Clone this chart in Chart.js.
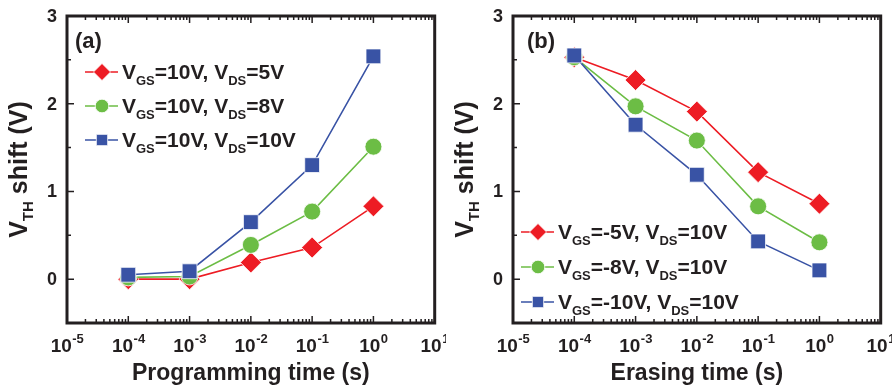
<!DOCTYPE html>
<html>
<head>
<meta charset="utf-8">
<script src="https://cdn.jsdelivr.net/npm/chart.js@4"></script>
<style>
  html, body { margin: 0; padding: 0; background: #fff; }
  #wrap { position: relative; width: 892px; height: 387px; }
  .panel { position: absolute; top: 0; width: 446px; height: 387px; }
</style>
</head>
<body>
<div id="wrap">
  <div class="panel" style="left:0"><canvas id="ca" width="446" height="387"></canvas></div>
  <div class="panel" style="left:446px"><canvas id="cb" width="446" height="387"></canvas></div>
</div>
<script>
// ---------- data ----------
const times = [1e-4, 1e-3, 1e-2, 1e-1, 1];

const progRed   = [0.00, 0.00, 0.19, 0.36, 0.83];
const progGreen = [0.02, 0.03, 0.39, 0.77, 1.51];
const progBlue  = [0.05, 0.09, 0.65, 1.30, 2.54];

const eraseRed   = [2.53, 2.27, 1.91, 1.22, 0.86];
const eraseGreen = [2.53, 1.97, 1.58, 0.83, 0.42];
const eraseBlue  = [2.55, 1.76, 1.19, 0.43, 0.10];

const progLabels  = ['V{GS}=10V, V{DS}=5V', 'V{GS}=10V, V{DS}=8V', 'V{GS}=10V, V{DS}=10V'];
const eraseLabels = ['V{GS}=-5V, V{DS}=10V', 'V{GS}=-8V, V{DS}=10V', 'V{GS}=-10V, V{DS}=10V'];

const xTickExps = [-5, -4, -3, -2, -1, 0, 1];
const yTickVals = [0, 1, 2, 3];
const yMinorVals = [-0.5, 0.5, 1.5, 2.5];

// ---------- styles ----------
const RED = '#ed1c24', GREEN = '#6cbd45', BLUE = '#3953a5', INK = '#231f20';
const FONT = '"Liberation Sans", Arial, Helvetica, sans-serif';
const styles = [
  { color: RED,   pointStyle: 'rectRot', radius: 10.5, legendRadius: 8.5, order: 2 },
  { color: GREEN, pointStyle: 'circle',  radius: 8.5,  legendRadius: 6.8, order: 1 },
  { color: BLUE,  pointStyle: 'rect',    radius: 10.5, legendRadius: 8,   order: 0 }
];

function parseRich(s) {
  const parts = [];
  const re = /\{([^}]*)\}/g;
  let last = 0, m;
  while ((m = re.exec(s))) {
    if (m.index > last) parts.push({ t: s.slice(last, m.index), sub: false });
    parts.push({ t: m[1], sub: true });
    last = re.lastIndex;
  }
  if (last < s.length) parts.push({ t: s.slice(last), sub: false });
  return parts;
}

function drawRich(ctx, parts, x, y, align, size, subSize, subDy) {
  const fBase = 'bold ' + size + 'px ' + FONT;
  const fSub = 'bold ' + subSize + 'px ' + FONT;
  let w = 0;
  parts.forEach(p => { ctx.font = p.sub ? fSub : fBase; p.w = ctx.measureText(p.t).width; w += p.w; });
  let cx = align === 'center' ? x - w / 2 : (align === 'right' ? x - w : x);
  ctx.textAlign = 'left';
  ctx.textBaseline = 'alphabetic';
  parts.forEach(p => {
    ctx.font = p.sub ? fSub : fBase;
    ctx.fillText(p.t, cx, y + (p.sub ? subDy : 0));
    cx += p.w;
  });
}

function makeDatasets(series, labels) {
  return series.map((vals, i) => ({
    label: labels[i],
    data: times.map((t, k) => ({ x: t, y: vals[k] })),
    order: styles[i].order,
    borderColor: styles[i].color,
    backgroundColor: styles[i].color,
    borderWidth: 1.6,
    pointStyle: styles[i].pointStyle,
    pointRadius: styles[i].radius,
    pointHoverRadius: styles[i].radius,
    pointBorderColor: '#ffffff',
    pointBorderWidth: 0.8,
    pointBackgroundColor: styles[i].color,
    tension: 0
  }));
}

function framePlugin(opts) {
  return {
    id: 'frame',
    afterDraw(chart) {
      const ctx = chart.ctx;
      const a = chart.chartArea;
      const xs = chart.scales.x, ys = chart.scales.y;
      ctx.save();
      ctx.strokeStyle = INK;
      ctx.fillStyle = INK;
      // ticks
      ctx.lineWidth = 1.5;
      ctx.beginPath();
      for (let e = -5; e <= 1; e++) {
        const px = xs.getPixelForValue(Math.pow(10, e));
        ctx.moveTo(px, a.bottom); ctx.lineTo(px, a.bottom - 7);
        ctx.moveTo(px, a.top); ctx.lineTo(px, a.top + 7);
        if (e < 1) {
          for (let m = 2; m <= 9; m++) {
            const pm = xs.getPixelForValue(m * Math.pow(10, e));
            ctx.moveTo(pm, a.bottom); ctx.lineTo(pm, a.bottom - 4);
            ctx.moveTo(pm, a.top); ctx.lineTo(pm, a.top + 4);
          }
        }
      }
      yTickVals.forEach(v => {
        const py = ys.getPixelForValue(v);
        ctx.moveTo(a.left, py); ctx.lineTo(a.left + 7, py);
      });
      yMinorVals.forEach(v => {
        const py = ys.getPixelForValue(v);
        ctx.moveTo(a.left, py); ctx.lineTo(a.left + 4, py);
      });
      ctx.stroke();
      // frame
      ctx.lineWidth = 3;
      ctx.strokeRect(a.left, a.top, a.right - a.left, a.bottom - a.top);

      // x tick labels
      xTickExps.forEach(e => {
        const px = xs.getPixelForValue(Math.pow(10, e));
        const base = '10', sup = String(e);
        ctx.font = 'bold 19px ' + FONT;
        const wb = ctx.measureText(base).width;
        ctx.font = 'bold 13px ' + FONT;
        const ws = ctx.measureText(sup).width;
        const x0 = px - (wb + ws) / 2;
        ctx.textAlign = 'left'; ctx.textBaseline = 'alphabetic';
        ctx.font = 'bold 19px ' + FONT;
        ctx.fillText(base, x0, a.bottom + 29);
        ctx.font = 'bold 13px ' + FONT;
        ctx.fillText(sup, x0 + wb + 0.5, a.bottom + 20);
      });
      // y tick labels
      ctx.font = 'bold 18px ' + FONT;
      ctx.textAlign = 'right'; ctx.textBaseline = 'middle';
      yTickVals.forEach(v => {
        ctx.fillText(String(v), a.left - 10, ys.getPixelForValue(v) + 1);
      });
      // axis titles
      ctx.font = 'bold 23px ' + FONT;
      ctx.textAlign = 'center'; ctx.textBaseline = 'alphabetic';
      ctx.fillText(opts.xTitle, (a.left + a.right) / 2, a.bottom + 57);
      ctx.save();
      ctx.translate(opts.yTitleX, (a.top + a.bottom) / 2);
      ctx.rotate(-Math.PI / 2);
      drawRich(ctx, parseRich('V{TH} shift (V)'), 0, 0, 'center', 25, 15, 6);
      ctx.restore();
      // panel label
      ctx.font = 'bold 22px ' + FONT;
      ctx.textAlign = 'left';
      ctx.fillText(opts.panel, opts.panelX, 48);
      // legend
      chart.data.datasets.forEach((ds, i) => {
        const cy = opts.legendY + i * opts.legendGap;
        ctx.strokeStyle = ds.borderColor;
        ctx.lineWidth = 1.6;
        ctx.beginPath();
        ctx.moveTo(opts.legendX - 17, cy); ctx.lineTo(opts.legendX + 16, cy);
        ctx.stroke();
        ctx.fillStyle = ds.pointBackgroundColor;
        ctx.strokeStyle = '#ffffff';
        ctx.lineWidth = 0.8;
        Chart.helpers.drawPoint(ctx, { pointStyle: ds.pointStyle, radius: styles[i].legendRadius, borderWidth: 0.8, rotation: 0 }, opts.legendX, cy);
        ctx.fillStyle = INK;
        drawRich(ctx, parseRich(ds.label), opts.legendX + 20, cy + 7, 'left', 21, 13, 6);
      });
      ctx.restore();
    }
  };
}

function makeChart(id, series, labels, opts) {
  return new Chart(document.getElementById(id), {
    type: 'line',
    data: { datasets: makeDatasets(series, labels) },
    options: {
      responsive: false,
      animation: false,
      devicePixelRatio: 1,
      layout: { padding: { left: 67, top: 16, right: 11, bottom: 64 } },
      plugins: { legend: { display: false }, tooltip: { enabled: false } },
      scales: {
        x: { type: 'logarithmic', min: 1e-5, max: 10, display: false },
        y: { type: 'linear', min: -0.5, max: 3, display: false }
      }
    },
    plugins: [framePlugin(opts)]
  });
}

makeChart('ca', [progRed, progGreen, progBlue], progLabels,
  { xTitle: 'Programming time (s)', yTitleX: 27, panel: '(a)', panelX: 75,
    legendX: 102, legendY: 72, legendGap: 34 });
makeChart('cb', [eraseRed, eraseGreen, eraseBlue], eraseLabels,
  { xTitle: 'Erasing time (s)', yTitleX: 27, panel: '(b)', panelX: 81,
    legendX: 92, legendY: 232, legendGap: 35 });
</script>
</body>
</html>
